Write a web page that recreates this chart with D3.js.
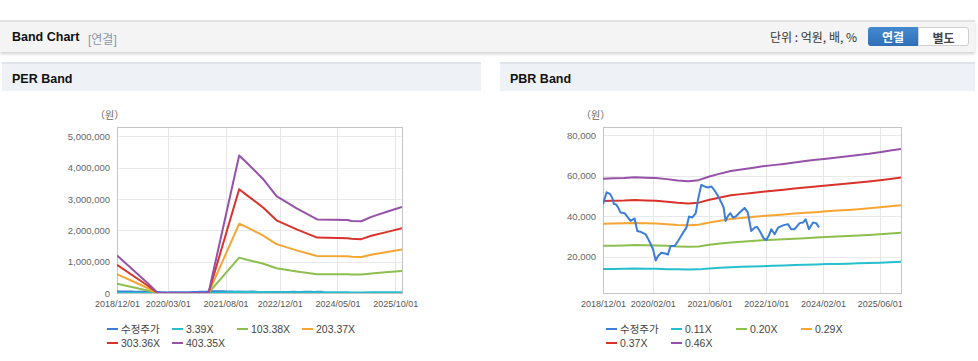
<!DOCTYPE html>
<meta charset="utf-8">
<style>
  body { margin: 0; background: #fff; font-family: Arial, "Liberation Sans", "Noto Sans CJK KR", sans-serif; }
  .bar {
    position: absolute; left: 0; top: 20px; width: 975px; height: 30px;
    background: #f4f4f4; border-top: 2px solid #e2e2e2;
    box-shadow: 0 2px 3px rgba(0, 0, 0, 0.18);
  }
  .bar .title { position: absolute; left: 12px; top: 8px; font-size: 12.5px; font-weight: bold; color: #111; }
  .bar .sub { position: absolute; left: 88px; top: 8px; font-size: 12px; color: #8a97aa; }
  .bar .unit { position: absolute; left: 770px; top: 8px; font-size: 12px; color: #333; font-family: "Noto Sans CJK KR", sans-serif; line-height: 14px; }
  .btn { position: absolute; top: 5px; height: 19px; width: 50px; font-size: 12px; font-weight: bold; text-align: center; line-height: 19px; box-sizing: border-box; font-family: "Noto Sans CJK KR", sans-serif; }
  .btn.on { left: 868px; background: linear-gradient(#4489d0, #2f6fb8); color: #fff; border-radius: 3px 0 0 3px; }
  .btn.off { left: 918px; width: 51px; background: #fff; color: #444; border: 1px solid #cfcfcf; border-radius: 0 3px 3px 0; }
  .panel { position: absolute; top: 62px; height: 27px; background: #eef1f6; border-top: 2px solid #e1e4ea; }
  .panel span { position: absolute; left: 10px; top: 8px; font-size: 12.5px; font-weight: bold; color: #111; }
  svg { position: absolute; left: 0; top: 0; }
</style>
<body>
<div class="bar">
  <div class="title">Band Chart</div>
  <div class="sub">[연결]</div>
  <div class="unit">단위 : 억원, 배, %</div>
  <div class="btn on">연결</div>
  <div class="btn off">별도</div>
</div>
<div class="panel" style="left:2px;width:479px"><span>PER Band</span></div>
<div class="panel" style="left:500px;width:475px"><span>PBR Band</span></div>
</body>
<script src="https://cdn.jsdelivr.net/npm/d3@7"></script>
<script>
  const width = 978
  const height = 361

  // 수정주가 (adjusted price), shared by both charts
  const priceDates = ["2018-12-01","2019-01-01","2019-02-01","2019-02-20","2019-03-04","2019-03-24","2019-04-08","2019-05-01",
    "2019-06-04","2019-07-02","2019-07-25","2019-08-29","2019-09-21","2019-10-25","2019-12-02","2020-01-06","2020-02-04",
    "2020-02-26","2020-03-16","2020-04-14","2020-05-18","2020-06-10","2020-07-03","2020-08-07","2020-09-05","2020-10-18",
    "2020-11-16","2020-12-08","2021-01-06","2021-02-04","2021-02-24","2021-03-23","2021-04-21","2021-05-19","2021-06-17",
    "2021-07-07","2021-08-13","2021-09-11","2021-10-01","2021-10-18","2021-11-08","2021-11-28","2021-12-20","2022-01-13",
    "2022-02-16","2022-03-30","2022-04-27","2022-05-26","2022-06-24","2022-07-16","2022-08-12","2022-09-10","2022-10-02",
    "2022-10-25","2022-11-14","2022-12-13","2023-01-11","2023-02-23","2023-04-06","2023-05-04","2023-06-02","2023-07-15",
    "2023-08-13","2023-09-05","2023-10-03","2023-11-07","2023-12-05","2023-12-28"]
  const priceValues = [45900,51800,50900,48800,46000,45800,44500,41800,41500,39400,37700,38900,32700,32200,31100,27300,23600,
    18200,20300,22000,21600,21100,25300,25300,27800,31900,34400,39900,39400,41500,48400,55400,54700,54200,54700,
    53400,50100,46800,44300,37700,40200,41500,39400,39900,41800,44100,41800,32700,34400,34700,32200,29000,28300,
    30600,33600,31100,34400,35500,36100,33600,33600,36600,36900,38500,33600,36900,36600,34400]

  // PER band
  const perDates = ["2018-12-01","2019-09-01","2019-12-01","2021-03-01","2021-12-01","2022-02-01","2022-07-01","2022-11-01",
    "2023-05-01","2023-11-01","2024-08-01","2024-09-01","2024-12-01","2025-03-01","2025-08-01","2025-12-01"]
  const per339 = [10000,1000,0,0,37000,35000,31000,26000,23000,20000,20000,19000,19000,20000,22000,23000]
  const per10338 = [300000,80000,0,0,1130000,1070000,940000,790000,690000,600000,600000,590000,590000,620000,670000,700000]
  const per20337 = [600000,160000,0,0,2210000,2110000,1840000,1560000,1360000,1180000,1170000,1160000,1150000,1220000,1320000,1390000]
  const per30336 = [900000,240000,0,0,3310000,3140000,2740000,2320000,2030000,1770000,1750000,1730000,1720000,1830000,1960000,2070000]
  const per40335 = [1200000,320000,0,0,4390000,4180000,3650000,3090000,2700000,2350000,2330000,2300000,2290000,2430000,2610000,2750000]
  const perLabels = ["수정주가", "3.39X", "103.38X", "203.37X", "303.36X", "403.35X"]
  const perTicksX = ["2018-12-01","2020-03-01","2021-08-01","2022-12-01","2024-05-01","2025-10-01"]
  const perTicksY = [0, 1000000, 2000000, 3000000, 4000000, 5000000]

  // PBR band
  const pbrDates = ["2018-12-01","2019-03-01","2019-06-01","2019-09-01","2019-12-01","2020-03-01","2020-06-01","2020-09-01",
    "2020-12-01","2021-03-01","2021-06-01","2021-09-01","2021-12-01","2022-03-01","2022-06-01","2022-09-01","2022-12-01",
    "2023-03-01","2023-06-01","2023-09-01","2023-12-01","2024-03-01","2024-06-01","2024-09-01","2024-12-01","2025-03-01",
    "2025-06-01","2025-09-01","2025-12-01"]
  const pbr011 = [14000,14000,14100,14200,14100,14100,13900,13800,13700,13800,14200,14600,14900,15100,15200,15400,15600,
    15700,15900,16100,16200,16400,16500,16600,16800,16900,17100,17300,17500]
  const pbr020 = [25400,25500,25600,25800,25700,25600,25400,25100,24900,25100,25900,26500,27100,27400,27800,28100,28400,
    28600,28900,29200,29500,29800,30000,30300,30500,30800,31100,31500,31800]
  const pbr029 = [36300,36400,36500,36700,36600,36400,36100,35700,35500,35800,36900,37800,38600,39100,39600,40100,40500,
    40900,41300,41700,42000,42400,42800,43100,43500,43900,44400,44900,45400]
  const pbr037 = [47500,47600,47700,48000,47800,47600,47200,46600,46300,46700,48100,49200,50300,50900,51500,52100,52600,
    53100,53700,54200,54700,55200,55700,56200,56600,57100,57700,58400,59100]
  const pbr046 = [58500,58700,58800,59200,59000,58800,58300,57600,57300,57800,59600,61000,62300,63000,63800,64600,65200,
    65800,66500,67200,67800,68400,69000,69600,70200,70800,71600,72400,73200]
  const pbrLabels = ["수정주가", "0.11X", "0.20X", "0.29X", "0.37X", "0.46X"]
  const pbrTicksX = ["2018-12-01","2020-02-01","2021-06-01","2022-10-01","2024-02-01","2025-06-01"]
  const pbrTicksY = [20000, 40000, 60000, 80000]

  const colors = ["#3b7dd8", "#27bfcd", "#8dbf4f", "#f6a533", "#d8322b", "#9651a9"]

  const parse = d3.timeParse("%Y-%m-%d")
  const fmtDate = d3.timeFormat("%Y/%m/%d")

  const svg = d3.select("body").append("svg")
    .attr("width", width)
    .attr("height", height)

  function renderChart(cfg) {
    const top = 127, bottom = 293
    const x = d3.scaleTime()
      .domain([parse("2018-12-01"), parse("2025-12-01")])
      .range([cfg.left, cfg.right])
    const y = d3.scaleLinear().domain(cfg.yDomain).range([bottom, top])

    const g = svg.append("g")
    const clipId = "clip-" + cfg.name
    g.append("clipPath").attr("id", clipId)
      .append("rect")
      .attr("x", cfg.left).attr("y", top - 2)
      .attr("width", cfg.right - cfg.left).attr("height", bottom - top + 2)

    // grid
    g.selectAll("line.hgrid").data(cfg.ticksY).enter().append("line")
      .attr("x1", cfg.left).attr("x2", cfg.right)
      .attr("y1", d => Math.round(y(d)) + 0.5).attr("y2", d => Math.round(y(d)) + 0.5)
      .attr("stroke", "#e9e9e9")
    g.selectAll("line.vgrid").data(cfg.ticksX.map(parse)).enter().append("line")
      .attr("y1", top).attr("y2", bottom)
      .attr("x1", d => Math.round(x(d)) + 0.5).attr("x2", d => Math.round(x(d)) + 0.5)
      .attr("stroke", "#e6e6e6")

    g.append("rect")
      .attr("x", cfg.left + 0.5).attr("y", top + 0.5)
      .attr("width", cfg.right - cfg.left).attr("height", bottom - top)
      .attr("fill", "none").attr("stroke", "#c4c4c4")

    const yAxis = g.append("g")
      .attr("transform", `translate(${cfg.left},0)`)
      .call(d3.axisLeft(y).tickValues(cfg.ticksY).tickSize(0).tickPadding(7).tickFormat(d3.format(",")))
    yAxis.select(".domain").remove()
    yAxis.selectAll("text").attr("fill", "#666").attr("font-size", cfg.yFont)
      .attr("font-family", "Arial, 'Liberation Sans', sans-serif")

    const xAxis = g.append("g")
      .attr("transform", `translate(0,${bottom})`)
      .call(d3.axisBottom(x).tickValues(cfg.ticksX.map(parse)).tickSize(0).tickPadding(8).tickFormat(fmtDate))
    xAxis.select(".domain").remove()
    xAxis.selectAll("text").attr("fill", "#555").attr("font-size", 9)
      .attr("font-family", "Arial, 'Liberation Sans', sans-serif")

    g.append("text")
      .attr("x", cfg.left - 22).attr("y", 119)
      .attr("font-size", 10).attr("fill", "#666")
      .attr("font-family", "'Noto Sans CJK KR', sans-serif")
      .text("（원）")

    const line = d3.line().x(d => x(d[0])).y(d => y(d[1]))
    const lines = g.append("g").attr("clip-path", `url(#${clipId})`)

    cfg.series.forEach(s => {
      lines.append("path")
        .datum(s.dates.map((d, i) => [parse(d), s.values[i]]))
        .attr("fill", "none")
        .attr("stroke", s.color)
        .attr("stroke-width", 2)
        .attr("stroke-linejoin", "round")
        .attr("d", line)
    })

    // legend
    const legend = g.append("g").attr("transform", `translate(${cfg.legendX},329)`)
    const items = legend.selectAll("g").data(cfg.labels).enter().append("g")
      .attr("transform", (d, i) => `translate(${(i % 4) * 65},${Math.floor(i / 4) * 14})`)
    items.append("line")
      .attr("x1", 0).attr("x2", 11).attr("y1", 0).attr("y2", 0)
      .attr("stroke", (d, i) => colors[i]).attr("stroke-width", 2)
    items.append("text")
      .attr("x", 14).attr("y", 4)
      .attr("font-size", 10.5).attr("fill", "#444")
      .attr("font-family", "Arial, 'Liberation Sans', 'Noto Sans CJK KR', sans-serif")
      .text(d => d)
  }

  renderChart({
    name: "per", left: 117, right: 402, yDomain: [0, 5300000], yFont: 9.5,
    ticksX: perTicksX, ticksY: perTicksY, labels: perLabels, legendX: 107,
    series: [
      { dates: priceDates, values: priceValues, color: colors[0] },
      { dates: perDates, values: per339, color: colors[1] },
      { dates: perDates, values: per10338, color: colors[2] },
      { dates: perDates, values: per20337, color: colors[3] },
      { dates: perDates, values: per30336, color: colors[4] },
      { dates: perDates, values: per40335, color: colors[5] }
    ]
  })

  renderChart({
    name: "pbr", left: 603, right: 901, yDomain: [2150, 84000], yFont: 9.5,
    ticksX: pbrTicksX, ticksY: pbrTicksY, labels: pbrLabels, legendX: 606,
    series: [
      { dates: pbrDates, values: pbr011, color: colors[1] },
      { dates: pbrDates, values: pbr020, color: colors[2] },
      { dates: pbrDates, values: pbr029, color: colors[3] },
      { dates: pbrDates, values: pbr037, color: colors[4] },
      { dates: pbrDates, values: pbr046, color: colors[5] },
      { dates: priceDates, values: priceValues, color: colors[0] }
    ]
  })
</script>
